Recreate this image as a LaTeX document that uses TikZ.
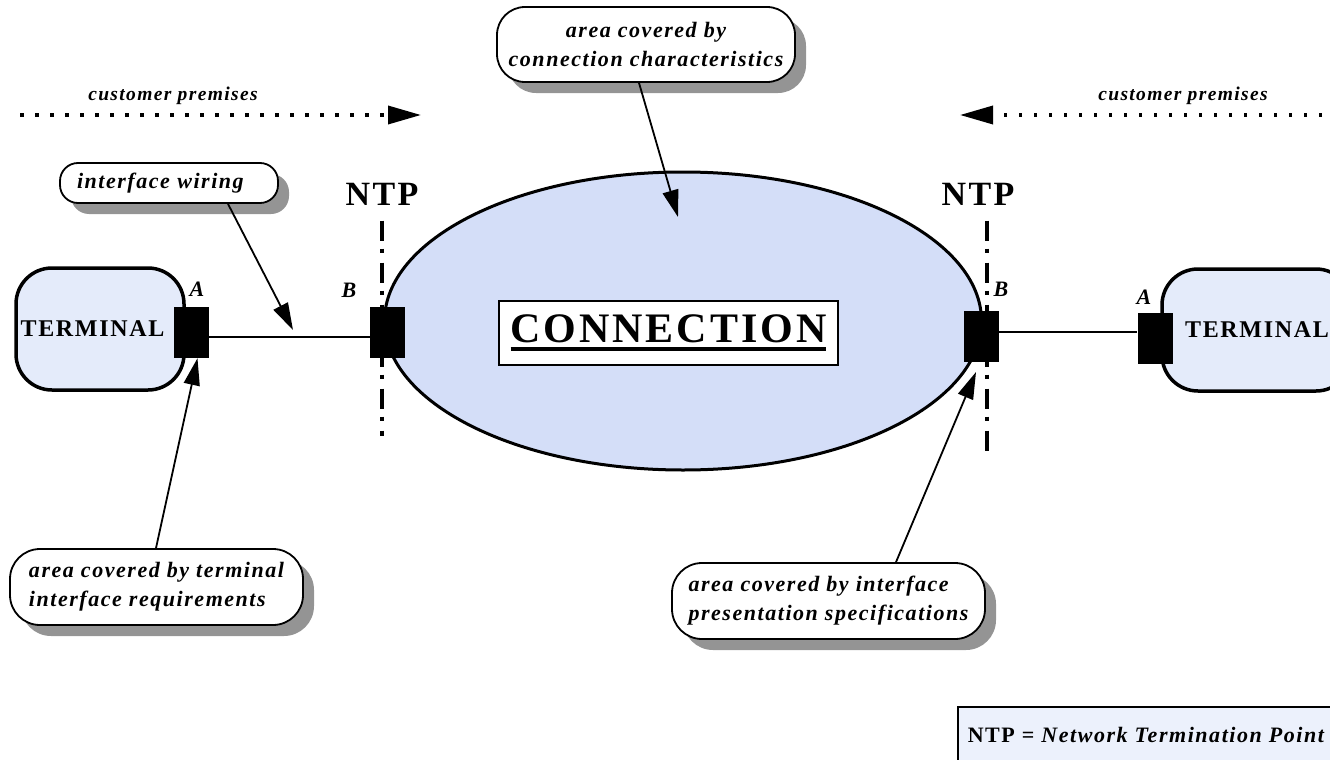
\documentclass[tikz,border=0pt]{standalone}
\usepackage{fontspec}
\setmainfont{Liberation Serif}[LetterSpace=7]
\usetikzlibrary{shapes.geometric,arrows.meta,shadows}
\definecolor{connblue}{RGB}{212,222,248}
\definecolor{termblue}{RGB}{228,235,250}
\definecolor{legendblue}{RGB}{236,241,252}
\newcommand{\fs}[2]{\fontsize{#1}{#2}\selectfont}
\newcommand{\heavyul}[1]{\vtop{\hbox{#1}\kern4pt\hrule height 4pt}}

\begin{document}
\begin{tikzpicture}[x=1pt,y=-1pt]
    \tikzstyle{every node}=[font={\bfseries}]
    \tikzstyle{callout}=[draw, line width=1.8pt, fill=white, rounded corners=22pt, inner sep=0pt,
        font={\bfseries\itshape\fs{22}{29}},
        drop shadow={shadow xshift=11pt, shadow yshift=-11pt, fill=black!42, opacity=1}]
    \tikzstyle{terminal}=[draw, line width=3.5pt, fill=termblue, rounded corners=36pt,
        minimum height=122pt, font={\bfseries\fs{24}{28}}]
    \tikzstyle{port}=[fill=black, minimum width=35pt, minimum height=51pt, inner sep=0pt]
    \tikzstyle{wire}=[line width=2.5pt]
    \tikzstyle{ntpline}=[line width=3.5pt, dash pattern=on 20pt off 8pt on 4pt off 10pt]
    \tikzstyle{premline}=[line width=3.5pt, dash pattern=on 3.5pt off 11.5pt,
        -{Triangle[length=33pt,width=18pt]}]
    \tikzstyle{callarrow}=[line width=1.8pt, -{Triangle[length=27pt,width=16pt]}]
    \tikzstyle{portlabel}=[font={\bfseries\itshape\fs{22}{26}}]
    \tikzstyle{ntplabel}=[font={\bfseries\fs{34}{38}}]
    \tikzstyle{premlabel}=[font={\bfseries\itshape\fs{19.5}{24}}]
    \tikzstyle{legend}=[draw, line width=2pt, fill=legendblue, minimum height=56pt,
        inner xsep=10pt, font={\bfseries\fs{22}{26}}]

    \useasboundingbox (0,0) rectangle (1330,760);

    \node[ellipse, draw, line width=3pt, fill=connblue, minimum width=597pt,
        minimum height=298pt, inner sep=0pt] (conn) at (683,321) {};
    \node[draw, line width=1.5pt, fill=white, minimum width=339pt, minimum height=64pt,
        font={\bfseries\fs{42}{46}}] (connbox) at (668.5,333) {\heavyul{CONNECTION}};

    \node[premlabel] (premLlab) at (173,96) {customer premises};
    \node[premlabel] (premRlab) at (1183,96) {customer premises};
    \coordinate (premLstart) at (20,115);
    \coordinate (premLend) at (421,115);
    \coordinate (premRstart) at (1322,115);
    \coordinate (premRend) at (960,115);
    \draw[premline] (premLstart) -- (premLend);
    \draw[premline] (premRstart) -- (premRend);

    \node[ntplabel] (ntpL) at (382,194) {NTP};
    \node[ntplabel] (ntpR) at (978,194) {NTP};
    \coordinate (ntpLend) at (382,436);
    \coordinate (ntpRend) at (987,456);
    \draw[ntpline, shorten <=12pt] (ntpL.south -| ntpLend) -- (ntpLend);
    \draw[ntpline, shorten <=12pt] (ntpR.south -| ntpRend) -- (ntpRend);

    \node[terminal, minimum width=168pt] (termL) at (100,329) {\hspace*{-15pt}TERMINAL};
    \node[terminal, minimum width=190pt] (termR) at (1257,330) {TERMINAL};

    \node[port] (portLA) at (191.5,332.5) {};
    \node[port] (portLB) at (387.5,332) {};
    \node[port] (portRB) at (981,336) {};
    \node[port] (portRA) at (1155,338) {};
    \draw[wire] (portLA.east |- 0,337) -- (portLB.west |- 0,337);
    \draw[wire] (portRB.east |- 0,332) -- (portRA.west |- 0,332);

    \node[portlabel] (labLA) at (197,289) {A};
    \node[portlabel] (labLB) at (349,290) {B};
    \node[portlabel] (labRB) at (1001,289) {B};
    \node[portlabel] (labRA) at (1144,297) {A};

    \node[callout, align=center, rounded corners=28pt, minimum width=298pt, minimum height=75pt] (charcall)
        at (646,44.5) {area covered by\\connection characteristics};
    \node[callout, align=left, text width=184pt, rounded corners=18pt, minimum width=218pt,
        minimum height=40pt] (wirecall) at (169,183) {interface wiring};
    \node[callout, align=left, rounded corners=30pt, minimum width=293pt, minimum height=76pt] (termcall)
        at (156.5,587) {area covered by terminal\\interface requirements};
    \node[callout, align=left, rounded corners=30pt, minimum width=313pt, minimum height=76pt] (prescall)
        at (828.5,601) {area covered by interface\\presentation specifications};

    \coordinate (charpt) at (678,217);
    \coordinate (wirept) at (293,330);
    \coordinate (prespt) at (976,372);
    \draw[callarrow] (639,0 |- charcall.south) -- (charpt);
    \draw[callarrow] (228,0 |- wirecall.south) -- (wirept);
    \draw[callarrow] (156,0 |- termcall.north) -- ([xshift=6pt]portLA.south);
    \draw[callarrow] (896,0 |- prescall.north) -- (prespt);

    \node[legend, anchor=north east] (ntpkey) at (1337,706)
        {NTP = \textit{Network Termination Point}};
\end{tikzpicture}
\end{document}
